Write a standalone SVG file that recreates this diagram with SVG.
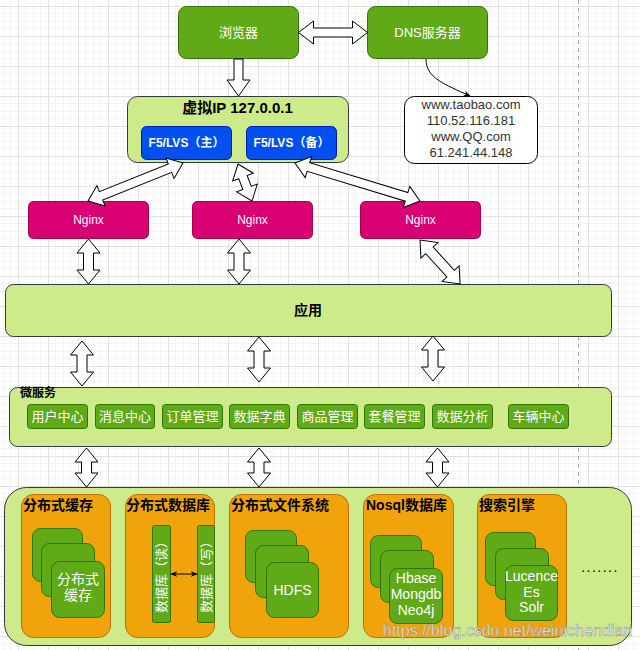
<svg xmlns="http://www.w3.org/2000/svg" width="640" height="650" viewBox="0 0 640 650">
<defs>
<pattern id="grid" x="18" y="6" width="30" height="30" patternUnits="userSpaceOnUse">
<path d="M7.5 0V30M15.5 0V30M22.5 0V30M0 7.5H30M0 15.5H30M0 22.5H30" stroke="#f3f3f3" stroke-width="1" fill="none"/>
<path d="M0.5 0V30M0 0.5H30" stroke="#e1e1e1" stroke-width="1" fill="none"/>
</pattern>
<marker id="arr" viewBox="0 0 10 10" refX="9" refY="5" markerWidth="7" markerHeight="7" orient="auto-start-reverse" markerUnits="userSpaceOnUse">
<path d="M0 1 L10 5 L0 9 L3 5 Z" fill="#000"/>
</marker>
<style>
text{font-family:"Liberation Sans","Noto Sans CJK SC",sans-serif;}
.green{fill:#60a917;stroke:#2d7600;stroke-width:1;}
.lime{fill:#cdeb8b;stroke:#36393d;stroke-width:1;}
.blue{fill:#0050ef;stroke:#001dbc;stroke-width:1;}
.pink{fill:#d80073;stroke:#a50040;stroke-width:1;}
.orange{fill:#f0a30a;stroke:#bd7000;stroke-width:1;}
.blk{fill:#fff;stroke:#000;stroke-width:1;stroke-linejoin:miter;}
.wt{fill:#fff;text-anchor:middle;}
.bt{fill:#000;font-weight:bold;}
</style>
</defs>
<rect width="640" height="650" fill="#fff"/>
<rect width="640" height="650" fill="url(#grid)"/>
<line x1="578.5" y1="0" x2="578.5" y2="650" stroke="#aaa" stroke-width="1" stroke-dasharray="4,4"/>

<g id="browser">
<rect class="green" x="178.5" y="6.5" width="120" height="52" rx="8"/>
<text class="wt" x="238.5" y="37" font-size="13">浏览器</text>
</g>
<g id="dns">
<rect class="green" x="367.5" y="6.5" width="120" height="52" rx="8"/>
<text class="wt" x="427.5" y="37" font-size="13">DNS服务器</text>
</g>
<g id="dns-result">
<rect x="404.5" y="96.5" width="133" height="67" rx="10" fill="#fff" stroke="#000" stroke-width="1"/>
<text x="471" y="109" font-size="13" fill="#333" text-anchor="middle">www.taobao.com</text>
<text x="471" y="125" font-size="13" fill="#333" text-anchor="middle">110.52.116.181</text>
<text x="471" y="141" font-size="13" fill="#333" text-anchor="middle">www.QQ.com</text>
<text x="471" y="157" font-size="13" fill="#333" text-anchor="middle">61.241.44.148</text>
</g>
<g id="vip">
<rect class="lime" x="127.5" y="96.5" width="221" height="66" rx="10"/>
<text class="bt" x="237.5" y="113" font-size="15" text-anchor="middle">虚拟IP 127.0.0.1</text>
</g>
<g id="lvs-main">
<rect class="blue" x="141.5" y="126.5" width="90" height="33" rx="5"/>
<text class="wt" x="186.5" y="147" font-size="12" font-weight="bold">F5/LVS（主）</text>
</g>
<g id="lvs-backup">
<rect class="blue" x="246.5" y="126.5" width="90" height="33" rx="5"/>
<text class="wt" x="291.5" y="147" font-size="12" font-weight="bold">F5/LVS（备）</text>
</g>
<g id="nginx1">
<rect class="pink" x="28.5" y="201.5" width="120" height="37" rx="5"/>
<text class="wt" x="88.5" y="224" font-size="12">Nginx</text>
</g>
<g id="nginx2">
<rect class="pink" x="192.5" y="201.5" width="120" height="37" rx="5"/>
<text class="wt" x="252.5" y="224" font-size="12">Nginx</text>
</g>
<g id="nginx3">
<rect class="pink" x="360.5" y="201.5" width="120" height="37" rx="5"/>
<text class="wt" x="420.5" y="224" font-size="12">Nginx</text>
</g>
<g id="app">
<rect class="lime" x="5.5" y="284.5" width="606" height="52" rx="8"/>
<text class="bt" x="308" y="315" font-size="14" text-anchor="middle">应用</text>
</g>
<g id="microservices">
<rect class="lime" x="9.5" y="387.5" width="602" height="59" rx="8"/>
<text class="bt" x="20" y="397" font-size="12">微服务</text>
<rect class="green" x="27.5" y="404.5" width="60" height="24" rx="3"/>
<text class="wt" x="57.5" y="421" font-size="13">用户中心</text>
<rect class="green" x="95.5" y="404.5" width="59" height="24" rx="3"/>
<text class="wt" x="125" y="421" font-size="13">消息中心</text>
<rect class="green" x="162.5" y="404.5" width="60" height="24" rx="3"/>
<text class="wt" x="192.5" y="421" font-size="13">订单管理</text>
<rect class="green" x="229.5" y="404.5" width="60" height="24" rx="3"/>
<text class="wt" x="259.5" y="421" font-size="13">数据字典</text>
<rect class="green" x="297.5" y="404.5" width="60" height="24" rx="3"/>
<text class="wt" x="327.5" y="421" font-size="13">商品管理</text>
<rect class="green" x="364.5" y="404.5" width="60" height="24" rx="3"/>
<text class="wt" x="394.5" y="421" font-size="13">套餐管理</text>
<rect class="green" x="432.5" y="404.5" width="60" height="24" rx="3"/>
<text class="wt" x="462.5" y="421" font-size="13">数据分析</text>
<rect class="green" x="508.5" y="404.5" width="60" height="24" rx="3"/>
<text class="wt" x="538.5" y="421" font-size="13">车辆中心</text>
</g>
<g id="storage">
<rect class="lime" x="4.5" y="487.5" width="627" height="158" rx="22"/>
</g>
<g id="cache">
<rect class="orange" x="21.5" y="494.5" width="89" height="143" rx="12"/>
<text class="bt" x="23" y="510" font-size="14">分布式缓存</text>
<rect class="green" x="32.5" y="528.5" width="50" height="53" rx="8"/>
<rect class="green" x="41.5" y="543.5" width="53" height="53" rx="8"/>
<rect class="green" x="51.5" y="561.5" width="53" height="56" rx="8"/>
<text class="wt" x="78" y="584" font-size="14">分布式</text>
<text class="wt" x="78" y="600" font-size="14">缓存</text>
</g>
<g id="ddb">
<rect class="orange" x="125.5" y="494.5" width="89" height="143" rx="12"/>
<text class="bt" x="126" y="510" font-size="14">分布式数据库</text>
<rect class="green" x="152.5" y="525.5" width="18" height="97" rx="2"/>
<text class="wt" transform="translate(166,574) rotate(-90)" font-size="13">数据库（读）</text>
<rect class="green" x="197.5" y="525.5" width="17" height="97" rx="2"/>
<text class="wt" transform="translate(210.5,574) rotate(-90)" font-size="13">数据库（写）</text>
<line x1="171" y1="574" x2="197" y2="574" stroke="#000" stroke-width="1" marker-start="url(#arr)" marker-end="url(#arr)"/>
</g>
<g id="dfs">
<rect class="orange" x="229.5" y="494.5" width="119" height="143" rx="12"/>
<text class="bt" x="231" y="510" font-size="14">分布式文件系统</text>
<rect class="green" x="245.5" y="530.5" width="51" height="52" rx="8"/>
<rect class="green" x="255.5" y="545.5" width="53" height="52" rx="8"/>
<rect class="green" x="266.5" y="562.5" width="52" height="55" rx="8"/>
<text class="wt" x="292.5" y="595" font-size="14">HDFS</text>
</g>
<g id="nosql">
<rect class="orange" x="363.5" y="494.5" width="90" height="143" rx="12"/>
<text class="bt" x="366" y="510" font-size="14">Nosql数据库</text>
<rect class="green" x="370.5" y="535.5" width="51" height="52" rx="8"/>
<rect class="green" x="380.5" y="550.5" width="53" height="52" rx="8"/>
<rect class="green" x="389.5" y="568.5" width="53" height="55" rx="8"/>
<text class="wt" x="416" y="583" font-size="14">Hbase</text>
<text class="wt" x="416" y="599" font-size="14">Mongdb</text>
<text class="wt" x="416" y="615" font-size="14">Neo4j</text>
</g>
<g id="search">
<rect class="orange" x="477.5" y="494.5" width="89" height="143" rx="12"/>
<text class="bt" x="479" y="510" font-size="14">搜索引擎</text>
<rect class="green" x="485.5" y="532.5" width="50" height="53" rx="8"/>
<rect class="green" x="495.5" y="548.5" width="53" height="51" rx="8"/>
<rect class="green" x="505.5" y="565.5" width="52" height="55" rx="8"/>
<text class="wt" x="531.5" y="581" font-size="14">Lucence</text>
<text class="wt" x="531.5" y="597" font-size="14">Es</text>
<text class="wt" x="531.5" y="612" font-size="14">Solr</text>
</g>
<g id="more">
<text x="600" y="572" font-size="14" fill="#000" text-anchor="middle" letter-spacing="1.5">.......</text>
</g>

<g id="connectors">
<polygon class="blk" transform="translate(298.5,32.5)" points="0,0 15,-11.5 15,-4.5 54,-4.5 54,-11.5 69,0 54,11.5 54,4.5 15,4.5 15,11.5"/>
<polygon class="blk" transform="translate(238.5,59) rotate(90)" points="0,-4.5 21,-4.5 21,-11.5 37,0 21,11.5 21,4.5 0,4.5"/>
<path d="M426 59 C426 78 444 84 470 96" fill="none" stroke="#000" stroke-width="1" marker-end="url(#arr)"/>
<polygon class="blk" transform="translate(183,163) rotate(158.2)" points="0,0 14,-11 14,-4.5 88.3,-4.5 88.3,-11 102.3,0 88.3,11 88.3,4.5 14,4.5 14,11"/>
<polygon class="blk" transform="translate(238,164) rotate(69.3)" points="0,0 14,-11 14,-4.5 25.6,-4.5 25.6,-11 39.6,0 25.6,11 25.6,4.5 14,4.5 14,11"/>
<polygon class="blk" transform="translate(295,163) rotate(16.9)" points="0,0 14,-11 14,-4.5 116.6,-4.5 116.6,-11 130.6,0 116.6,11 116.6,4.5 14,4.5 14,11"/>
<polygon class="blk" transform="translate(88.5,239) rotate(90)" points="0,0 14,-11.5 14,-5 31,-5 31,-11.5 45,0 31,11.5 31,5 14,5 14,11.5"/>
<polygon class="blk" transform="translate(239,239) rotate(90)" points="0,0 14,-11.5 14,-5 31,-5 31,-11.5 45,0 31,11.5 31,5 14,5 14,11.5"/>
<polygon class="blk" transform="translate(420,240) rotate(47.7)" points="0,0 14,-11.5 14,-5 45.5,-5 45.5,-11.5 59.5,0 45.5,11.5 45.5,5 14,5 14,11.5"/>
<polygon class="blk" transform="translate(82,341) rotate(90)" points="0,0 14,-11.5 14,-5 31,-5 31,-11.5 45,0 31,11.5 31,5 14,5 14,11.5"/>
<polygon class="blk" transform="translate(259,337) rotate(90)" points="0,0 14,-11.5 14,-5 31,-5 31,-11.5 45,0 31,11.5 31,5 14,5 14,11.5"/>
<polygon class="blk" transform="translate(433,336) rotate(90)" points="0,0 14,-11.5 14,-5 31,-5 31,-11.5 45,0 31,11.5 31,5 14,5 14,11.5"/>
<polygon class="blk" transform="translate(86.5,448) rotate(90)" points="0,0 14,-11.5 14,-5 25,-5 25,-11.5 39,0 25,11.5 25,5 14,5 14,11.5"/>
<polygon class="blk" transform="translate(259,448) rotate(90)" points="0,0 14,-11.5 14,-5 25,-5 25,-11.5 39,0 25,11.5 25,5 14,5 14,11.5"/>
<polygon class="blk" transform="translate(437.5,448) rotate(90)" points="0,0 14,-11.5 14,-5 25,-5 25,-11.5 39,0 25,11.5 25,5 14,5 14,11.5"/>
</g>
<text x="383" y="636" font-size="16" fill="#ffffff" fill-opacity="0.9" stroke="#8c8c8c" stroke-width="0.5">https://blog.csdn.net/weinichendian</text>
</svg>
